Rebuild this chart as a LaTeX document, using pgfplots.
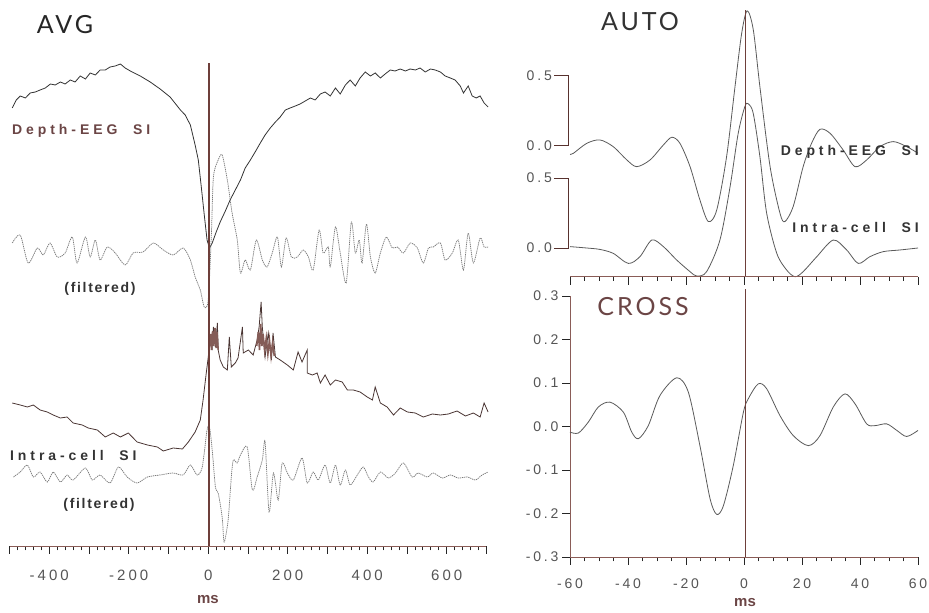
\documentclass[border=0pt]{standalone}
\usepackage{pgfplots}
\pgfplotsset{compat=1.18}
\usepackage{fontspec}
\setmainfont{Liberation Sans}
\newfontfamily\titlefont[LetterSpace=12]{Lato}
\newfontfamily\lblfont[LetterSpace=28]{Liberation Sans}
\newfontfamily\fltfont[LetterSpace=12]{Liberation Sans}
\newfontfamily\tickfont[LetterSpace=20]{Liberation Sans}
\definecolor{axbrown}{HTML}{8A5C57}
\definecolor{zerobrown}{HTML}{6E3F3A}
\definecolor{lblbrown}{HTML}{6B4545}
\definecolor{tickgray}{HTML}{555555}
\definecolor{tracedark}{HTML}{333333}
\definecolor{intradark}{HTML}{4A3533}
\definecolor{filtgray}{HTML}{7A7A7A}
\definecolor{corrgray}{HTML}{5A5A5A}
\pgfplotsset{
  base/.style={scale only axis, clip=false, axis line style={axbrown, line width=0.9pt, -},
    tick style={black!85, line width=0.8pt}, tick align=outside,
    major tick length=8pt, minor tick length=4.5pt},
  filt/.style={filtgray, line width=0.75pt, dash pattern=on 1.3pt off 0.8pt, smooth, tension=0.45},
}
\tikzset{ylab/.style={anchor=east, inner sep=0pt, font=\tickfont\fontsize{14}{14}\selectfont, text=tickgray}}
\begin{document}
\begin{tikzpicture}[x=1pt,y=1pt]
\useasboundingbox (0,0) rectangle (929,613);
% ---------------- AVG ----------------
\begin{axis}[base, at={(9.5pt,67pt)}, anchor=south west, width=477pt, height=483pt,
  xmin=-500, xmax=700, ymin=0, ymax=483,
  axis x line*=bottom, hide y axis,
  xtick={-500,-400,...,700}, xticklabels={,-400,,-200,,0,,200,,400,,600,},
  minor x tick num=4,
  xticklabel style={font=\tickfont\fontsize{15}{15}\selectfont, text=tickgray, yshift=-12pt}]
\addplot[tracedark, line width=0.8pt] coordinates {
(-493,438)(-483,446)(-473,450)(-460,448)(-448,453)(-435,454)(-423,456)(-410,458)(-397,462)(-385,461)(-372,464)(-360,462)(-347,466)(-335,464)(-322,470)(-309,467)(-297,473)(-284,471)(-272,476)(-259,476)(-247,479)(-234,480)(-221,482)(-209,478)(-196,475)(-171,470)(-146,464)(-121,457)(-96,449)(-70,436)(-58,431)(-45,421)(-33,401)(-25,386)(-18,361)(-10,331)(-3,306)(3,298)(10,303)(20,314)(30,324)(43,335)(55,346)(68,356)(81,366)(93,378)(106,386)(118,394)(131,403)(143,411)(156,418)(169,424)(181,429)(194,436)(206,438)(219,440)(231,442)(244,445)(257,448)(269,446)(282,452)(294,454)(307,450)(320,458)(332,452)(345,461)(357,466)(370,460)(382,468)(395,474)(408,470)(420,473)(433,468)(445,472)(458,476)(470,475)(483,477)(496,475)(508,477)(521,476)(533,478)(546,474)(559,477)(571,476)(584,474)(596,470)(609,468)(621,466)(634,460)(642,453)(654,460)(664,450)(674,448)(684,450)(694,443)(704,439)};
\addplot[filt] coordinates {
(-493,303)(-473,311)(-453,283)(-430,298)(-415,291)(-398,303)(-380,289)(-360,293)(-342,309)(-330,283)(-309,309)(-297,289)(-284,306)(-272,286)(-254,299)(-234,293)(-209,281)(-189,293)(-164,294)(-138,303)(-113,296)(-88,291)(-63,298)(-45,286)(-33,269)(-20,256)(-10,239)(0,246)(8,313)(13,369)(25,386)(35,391)(48,366)(60,333)(73,306)(81,273)(93,286)(106,276)(121,306)(136,286)(148,279)(161,293)(174,309)(184,279)(196,308)(209,289)(224,289)(239,296)(252,289)(264,276)(279,316)(289,293)(302,299)(307,279)(320,319)(332,293)(347,263)(360,324)(370,293)(380,306)(387,283)(398,322)(408,289)(420,273)(433,293)(448,309)(463,298)(476,299)(491,293)(508,303)(526,298)(541,283)(554,298)(566,299)(584,303)(596,286)(614,293)(629,306)(642,276)(654,313)(667,283)(684,308)(694,299)(704,299)};
\addplot[intradark, line width=0.8pt] coordinates {
(-493,143)(-473,141)(-455,139)(-440,141)(-423,136)(-405,134)(-390,131)(-372,128)(-355,129)(-340,123)(-317,121)(-302,118)(-279,116)(-259,109)(-239,113)(-221,109)(-201,113)(-179,104)(-153,101)(-128,99)(-113,95)(-88,98)(-65,97)(-50,104)(-33,114)(-20,126)(-13,146)(-5,173)(0,189)(5,206)(10,198)(13,219)(18,199)(23,223)(25,196)(30,186)(38,179)(48,176)(53,209)(58,179)(68,183)(75,188)(86,219)(88,193)(101,196)(113,191)(123,206)(128,219)(133,244)(136,219)(143,189)(151,213)(159,186)(163,213)(169,189)(181,186)(199,181)(214,176)(226,194)(236,184)(249,196)(249,173)(262,171)(274,173)(282,163)(294,171)(307,161)(320,166)(337,164)(350,156)(365,156)(382,154)(400,149)(413,146)(420,159)(433,143)(450,139)(466,131)(483,138)(501,134)(521,133)(541,129)(564,132)(584,131)(604,132)(626,135)(647,130)(667,133)(684,129)(694,143)(704,134)};
\addplot[zerobrown!85, line width=1.6pt] coordinates {
(3,200)(6,212)(8,196)(11,215)(14,200)(17,218)(20,198)(22,214)(25,196)};
\addplot[zerobrown!85, line width=1.6pt] coordinates {
(122,200)(126,214)(129,196)(132,222)(135,200)(138,212)(142,195)(146,208)(150,192)(154,206)(158,190)(162,204)(166,190)};
\addplot[filt] coordinates {
(-490,69)(-473,74)(-455,81)(-440,69)(-423,74)(-405,64)(-390,74)(-372,64)(-355,71)(-340,66)(-309,78)(-292,66)(-272,71)(-247,63)(-226,79)(-204,69)(-179,63)(-153,69)(-121,71)(-88,73)(-63,71)(-45,81)(-28,71)(-15,79)(-3,116)(3,119)(10,96)(18,59)(25,53)(35,29)(40,4)(50,26)(58,69)(63,86)(73,83)(81,91)(98,99)(111,56)(123,69)(136,86)(143,104)(153,34)(164,73)(176,46)(186,83)(199,73)(214,66)(236,88)(249,63)(264,74)(277,66)(294,81)(307,63)(320,81)(332,61)(345,76)(357,61)(375,71)(390,79)(403,69)(415,64)(433,74)(453,68)(471,73)(491,83)(513,69)(528,73)(551,69)(566,73)(589,68)(609,71)(629,68)(652,69)(672,66)(689,71)(704,74)};
\addplot[zerobrown, line width=1.3pt] coordinates {(2,0) (2,483)};
\end{axis}
% ---------------- AUTO ----------------
\begin{axis}[base, at={(570pt,336pt)}, anchor=south west, width=348pt, height=267pt,
  xmin=-60, xmax=60, ymin=-0.207, ymax=1.70, hide axis]
\addplot[corrgray, line width=0.8pt, smooth] coordinates {
(-60,0.669)(-58.8,0.677)(-54.2,0.748)(-49.7,0.772)(-45.1,0.724)(-40.4,0.629)(-37.0,0.581)(-32.4,0.629)(-27.8,0.736)(-24.9,0.791)(-22.1,0.748)(-18.6,0.581)(-15.2,0.343)(-12.3,0.189)(-9.4,0.272)(-6.0,0.653)(-3.1,1.153)(-0.8,1.534)(1.1,1.694)(3.2,1.559)(5.5,1.149)(9.0,0.581)(12.4,0.249)(14.1,0.189)(17.0,0.299)(20.4,0.581)(23.3,0.748)(26.2,0.848)(29.7,0.819)(34.2,0.700)(38.3,0.581)(42.3,0.629)(46.9,0.724)(51.5,0.760)(56.1,0.724)(60.0,0.677)};
\addplot[corrgray, line width=0.8pt, smooth] coordinates {
(-60,0.01)(-54.2,0.0)(-49.7,-0.01)(-45.1,-0.038)(-39.9,-0.11)(-35.9,-0.062)(-31.8,0.057)(-27.8,0.01)(-23.2,-0.086)(-18.6,-0.169)(-16.3,-0.2)(-12.9,-0.169)(-8.3,0.057)(-4.8,0.438)(-2.0,0.819)(0.3,1.01)(1.5,1.03)(3.2,0.96)(5.5,0.65)(7.8,0.25)(11.3,-0.038)(14.7,-0.157)(17.6,-0.205)(20.4,-0.169)(25.1,-0.062)(30.8,0.057)(35.4,-0.014)(39.4,-0.11)(43.4,-0.062)(48.0,-0.026)(53.8,-0.014)(60,0.0)};
\addplot[zerobrown, line width=1.3pt] coordinates {(0.5,-0.207) (0.5,1.70)};
\draw[zerobrown!80!black, line width=0.9pt] ([xshift=-16pt]axis cs:-60,1.229) -- ([xshift=-2pt]axis cs:-60,1.229) -- ([xshift=-2pt]axis cs:-60,0.729) -- ([xshift=-16pt]axis cs:-60,0.729);
\draw[zerobrown!80!black, line width=0.9pt] ([xshift=-16pt]axis cs:-60,0.5) -- ([xshift=-2pt]axis cs:-60,0.5) -- ([xshift=-2pt]axis cs:-60,0) -- ([xshift=-16pt]axis cs:-60,0);
\node[ylab] at ([xshift=-18pt]axis cs:-60,1.229) {0.5};
\node[ylab] at ([xshift=-18pt]axis cs:-60,0.729) {0.0};
\node[ylab] at ([xshift=-18pt]axis cs:-60,0.5) {0.5};
\node[ylab] at ([xshift=-18pt]axis cs:-60,0) {0.0};
\end{axis}
% ---------------- CROSS ----------------
\begin{axis}[base, at={(570pt,56pt)}, anchor=south west, width=348pt, height=261pt,
  xmin=-60, xmax=60, ymin=-0.3, ymax=0.3,
  axis x line*=bottom, axis y line*=left,
  xtick={-60,-40,...,60}, xticklabels={-60,-40,-20,0,20,40,60}, minor x tick num=3,
  ytick={-0.3,-0.2,...,0.3}, yticklabels={-0.3,-0.2,-0.1,0.0,0.1,0.2,0.3},
  xticklabel style={font=\tickfont\fontsize{14}{14}\selectfont, text=tickgray, yshift=-10pt},
  yticklabel style={font=\tickfont\fontsize{14}{14}\selectfont, text=tickgray}]
\addplot[corrgray, line width=0.8pt, smooth] coordinates {
(-60,-0.013)(-57.1,-0.015)(-53.7,0.010)(-50.2,0.045)(-46.2,0.056)(-41.6,0.033)(-38.7,-0.013)(-36.4,-0.028)(-33.0,0.002)(-29.0,0.071)(-23.2,0.112)(-19.2,0.079)(-15.2,-0.044)(-11.7,-0.166)(-9.4,-0.202)(-7.1,-0.182)(-3.7,-0.09)(-0.2,0.033)(1.5,0.064)(4.9,0.098)(7.8,0.087)(12.4,0.025)(17.0,-0.021)(22.2,-0.044)(26.2,-0.021)(30.8,0.045)(34.8,0.075)(38.3,0.052)(42.3,0.006)(45.2,0.002)(49.2,0.006)(52.7,-0.009)(56.1,-0.023)(60,-0.009)};
\addplot[zerobrown, line width=1.3pt] coordinates {(0.5,-0.3) (0.5,0.315)};
\end{axis}
% ---------------- texts ----------------
\node[font=\titlefont\fontsize{25}{25}\selectfont, text=black!85] at (65,588) {AVG};
\node[font=\titlefont\fontsize{25}{25}\selectfont, text=black!80] at (640,591) {AUTO};
\node[font=\titlefont\fontsize{25}{25}\selectfont, text=lblbrown] at (643,306) {CROSS};
\node[font=\lblfont\bfseries\fontsize{14}{14}\selectfont, text=lblbrown, anchor=west, inner sep=0pt] at (12,482) {Depth-EEG\ \ SI};
\node[font=\fltfont\bfseries\fontsize{14}{14}\selectfont, text=black!80] at (100,324) {(filtered)};
\node[font=\lblfont\bfseries\fontsize{14}{14}\selectfont, text=black!80, anchor=west, inner sep=0pt] at (10,158) {Intra-cell\ \ SI};
\node[font=\fltfont\bfseries\fontsize{14}{14}\selectfont, text=black!80] at (99,108) {(filtered)};
\node[font=\lblfont\bfseries\fontsize{14}{14}\selectfont, text=black!80, anchor=east, inner sep=0pt] at (919,461) {Depth-EEG\ \ SI};
\node[font=\lblfont\bfseries\fontsize{14}{14}\selectfont, text=black!80, anchor=east, inner sep=0pt] at (919,385) {Intra-cell\ \ SI};
\node[font=\bfseries\fontsize{15}{15}\selectfont, text=lblbrown] at (208,13) {ms};
\node[font=\bfseries\fontsize{15}{15}\selectfont, text=lblbrown] at (745,10) {ms};
% ---------------- AUTO x axis line and ticks (plain TikZ, 1pt = 1px) ----------------
\draw[axbrown, line width=1pt] (570,336) -- (918,336);
\draw[black!85, line width=0.8pt]
  (570,336) -- ++(0,-8) (628,336) -- ++(0,-8) (686,336) -- ++(0,-8) (744,336) -- ++(0,-8)
  (802,336) -- ++(0,-8) (860,336) -- ++(0,-8) (918,336) -- ++(0,-8)
  (584.5,336) -- ++(0,-4.5) (599,336) -- ++(0,-4.5) (613.5,336) -- ++(0,-4.5)
  (642.5,336) -- ++(0,-4.5) (657,336) -- ++(0,-4.5) (671.5,336) -- ++(0,-4.5)
  (700.5,336) -- ++(0,-4.5) (715,336) -- ++(0,-4.5) (729.5,336) -- ++(0,-4.5)
  (758.5,336) -- ++(0,-4.5) (773,336) -- ++(0,-4.5) (787.5,336) -- ++(0,-4.5)
  (816.5,336) -- ++(0,-4.5) (831,336) -- ++(0,-4.5) (845.5,336) -- ++(0,-4.5)
  (874.5,336) -- ++(0,-4.5) (889,336) -- ++(0,-4.5) (903.5,336) -- ++(0,-4.5);
\end{tikzpicture}
\end{document}
